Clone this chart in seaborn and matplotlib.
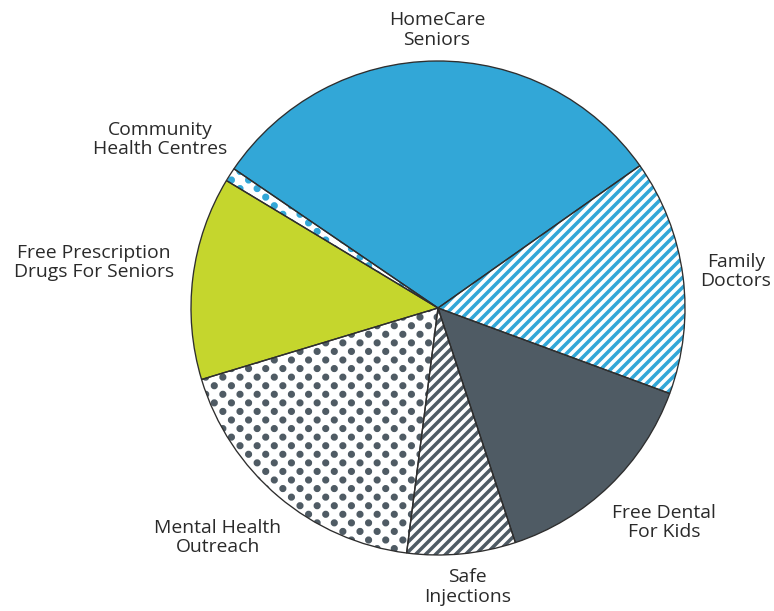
import matplotlib
matplotlib.use("Agg")
import matplotlib.pyplot as plt
import matplotlib.hatch as mhatch
from matplotlib.path import Path
import seaborn as sns
import numpy as np

# ---- data ----
categories = ["HomeCare\nSeniors", "Family\nDoctors", "Free Dental\nFor Kids", "Safe\nInjections",
              "Mental Health\nOutreach", "Free Prescription\nDrugs For Seniors", "Community\nHealth Centres"]
shares = [30.7, 15.4, 14.3, 7.1, 18.3, 13.3, 0.9]

# ---- style ----
BLUE = "#32a7d7"
GREEN = "#c5d62d"
DARK = "#4f5b64"
face_colors = [BLUE, "white", DARK, "white", "white", GREEN, "white"]
hatch_colors = [BLUE, BLUE, DARK, DARK, DARK, GREEN, BLUE]
hatches = [None, "////", None, "////", "..", None, ".."]
label_dist = [1.125, 1.215, 1.263, 1.136, 1.288, 1.405, 1.317]
label_dang = [-0.2, -0.5, 2.5, 0.6, -3.6, -0.4, 1.45]


# dot hatch laid out on a 45-degree lattice (like the reference halftone)
class DiagonalDots(mhatch.HatchPatternBase):
    m = 7          # dots per row in one hatch tile
    radius = 0.015 # in tile units

    def __init__(self, hatch, density):
        circ = Path.unit_circle()
        self.sv = circ.vertices
        self.sc = circ.codes
        pts = []
        if hatch.count('.'):
            m = self.m
            for j in range(2 * m + 1):
                y = j / (2 * m)
                if j % 2 == 0:
                    xs = [i / m for i in range(m + 1)]
                else:
                    xs = [(i + 0.5) / m for i in range(m)]
                pts += [(x, y) for x in xs]
        self.pts = pts
        self.num_vertices = len(pts) * len(self.sv)

    def set_vertices_and_codes(self, vertices, codes):
        vparts, cparts = [], []
        for (x, y) in self.pts:
            vparts.append(self.sv * self.radius + [x, y])
            cparts.append(self.sc)
        if vparts:
            vertices[:] = np.concatenate(vparts)
            codes[:] = np.concatenate(cparts)


try:
    for k, t in enumerate(mhatch._hatch_types):
        if t is mhatch.SmallFilledCircles:
            mhatch._hatch_types[k] = DiagonalDots
except Exception:
    pass

sns.set_theme(style="white")
plt.rcParams["font.family"] = ["Open Sans", "DejaVu Sans"]
HATCH_LW = 2.1
plt.rcParams["hatch.linewidth"] = HATCH_LW

DPI = 120
fig = plt.figure(figsize=(774 / DPI, 611 / DPI), dpi=DPI)
ax = fig.add_axes([0, 0, 1, 1])
ax.set_axis_off()

start = 145.7
# fill layer (with hatches)
wedges, _ = ax.pie(shares, startangle=start, counterclock=False,
                   colors=face_colors, wedgeprops=dict(linewidth=0))
for w, h, hc in zip(wedges, hatches, hatch_colors):
    w.set_edgecolor(hc)
    w.set_linewidth(0)
    if h:
        w.set_hatch(h)
        if hasattr(w, "set_hatch_linewidth"):
            w.set_hatch_linewidth(HATCH_LW)
# outline layer
outl, _ = ax.pie(shares, startangle=start, counterclock=False,
                 colors=["none"] * len(shares),
                 wedgeprops=dict(linewidth=0.8, edgecolor="#2e2e2e", fill=False))

# labels
for w, lab, d, da in zip(wedges, categories, label_dist, label_dang):
    mid = np.deg2rad((w.theta1 + w.theta2) / 2 + da)
    ax.text(d * np.cos(mid), d * np.sin(mid), lab, ha="center", va="center",
            fontsize=11.6, color="#2a2a2a", linespacing=1.1)

R = 247.0
cx, cy = 438.0, 303.0
ax.set_xlim(-cx / R, (774 - cx) / R)
ax.set_ylim(-cy / R, (611 - cy) / R)
ax.set_aspect("auto")

fig.savefig("out.png", dpi=DPI)
